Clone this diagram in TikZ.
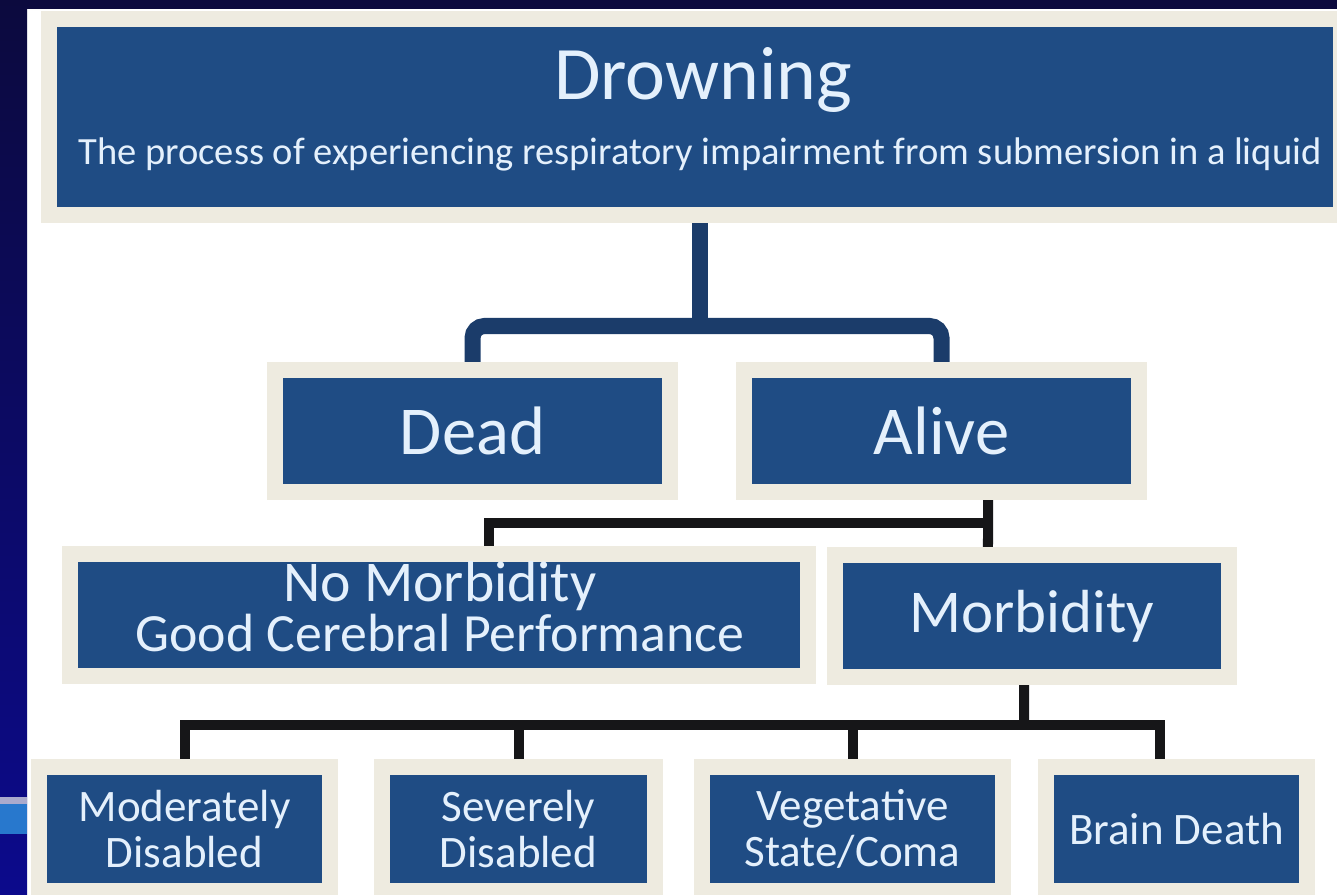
\documentclass[tikz,border=0pt]{standalone}
\usepackage{fontspec}
\setmainfont{Carlito}
\usepackage{tikz}
\definecolor{boxblue}{RGB}{31,76,132}
\definecolor{frame}{RGB}{238,235,224}
\definecolor{navy}{RGB}{27,60,106}
\definecolor{boxtext}{RGB}{228,240,252}
\definecolor{lineblack}{RGB}{22,22,24}
\definecolor{bgnavy}{RGB}{12,10,62}
\definecolor{bgblue}{RGB}{12,10,140}
\definecolor{stripegray}{RGB}{170,170,205}
\definecolor{stripeblue}{RGB}{40,120,205}

\begin{document}
\begin{tikzpicture}[x=0.01cm, y=-0.01cm,
	box/.style={fill=boxblue, text=boxtext, inner sep=0pt, outer sep=0.16cm, align=center, preaction={draw=frame, line width=0.32cm}},
	navyline/.style={draw=navy, line width=0.16cm, rounded corners=0.12cm},
	blkline/.style={draw=lineblack, line width=0.1cm}]
			\useasboundingbox (0,0) rectangle (1337,894);
			\fill [color=white] (0,0) rectangle (1337,894);
			\fill [color=bgnavy] (0,0) rectangle (1337,9);
			\shade [top color=bgnavy, bottom color=bgblue] (0,0) rectangle (27,894);
			\fill [color=stripegray] (0,797) rectangle (27,804);
			\fill [color=stripeblue] (0,804) rectangle (27,834);
			\node [box, minimum width=12.76cm, minimum height=1.8cm] (drown) at (695,117) {};
			\node [text=boxtext, font=\fontsize{21.5}{26}\selectfont, anchor=base] (title) at (703,100) {Drowning};
			\node [text=boxtext, font=\fontsize{10.95}{13}\selectfont, anchor=base] (sub) at (700,165) {The process of experiencing respiratory impairment from submersion in a liquid};
			\node [box, minimum width=3.79cm, minimum height=1.06cm, font=\fontsize{19.5}{23}\selectfont] (dead) at (472.5,431) {Dead};
			\node [box, minimum width=3.79cm, minimum height=1.06cm, font=\fontsize{19.5}{23}\selectfont] (alive) at (941.5,431) {Alive};
			\node [box, minimum width=7.22cm, minimum height=1.06cm] (nomor) at (439,615) {};
			\node [text=boxtext, align=center, inner sep=0pt, font=\fontsize{15.3}{11.5}\selectfont] (nomortxt) at (440,607) {{\fontsize{16.4}{11.5}\selectfont No Morbidity}\\[0pt]Good Cerebral Performance};
			\node [box, minimum width=3.78cm, minimum height=1.06cm, font=\fontsize{17.3}{21}\selectfont] (mor) at (1032,616) {Morbidity};
			\node [box, minimum width=2.75cm, minimum height=1.08cm, font=\fontsize{12.8}{13.2}\selectfont] (mod) at (184.5,829) {Moderately\\Disabled};
			\node [box, minimum width=2.57cm, minimum height=1.08cm, font=\fontsize{12.8}{13.2}\selectfont] (sev) at (518.5,829) {Severely\\Disabled};
			\node [box, minimum width=2.85cm, minimum height=1.08cm, font=\fontsize{12.8}{13.2}\selectfont] (veg) at (852.5,829) {Vegetative\\State/Coma};
			\node [box, minimum width=2.45cm, minimum height=1.08cm, font=\fontsize{12.8}{13.2}\selectfont] (brain) at (1176.5,829) {Brain Death};
			\coordinate (split1) at (700,326);
			\draw [navyline] (drown.south -| split1) -- (split1);
			\draw [navyline] (dead.north) |- (split1) -| (alive.north);
			\coordinate (split2) at (988,523);
			\draw [blkline] ([xshift=0.465cm]alive.south) -- ([xshift=-0.44cm]mor.north);
			\draw [blkline] (split2) -| ([xshift=0.5cm]nomor.north);
			\coordinate (split3) at (1024,725);
			\draw [blkline] ([xshift=-0.08cm]mor.south) -- (split3);
			\draw [blkline] (mod.north) |- (split3) -| ([xshift=-0.165cm]brain.north);
			\draw [blkline] (sev.north) -- (sev.north |- split3);
			\draw [blkline] (veg.north) -- (veg.north |- split3);
		\end{tikzpicture}
\end{document}
